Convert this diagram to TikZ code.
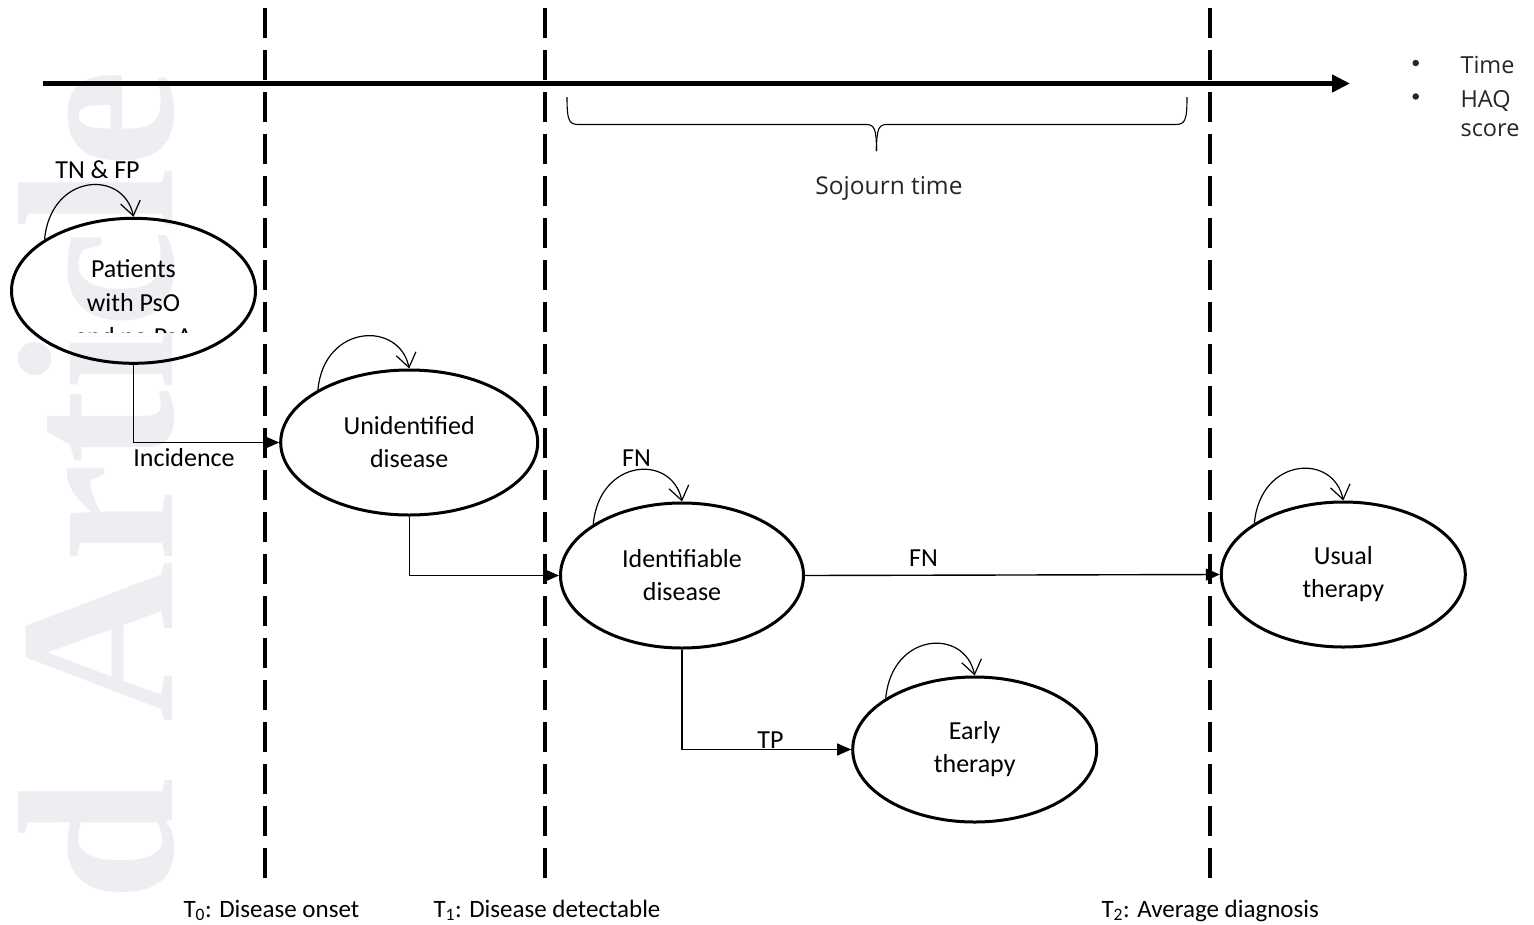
\documentclass[tikz,border=0pt]{standalone}
\usepackage{fontspec}
\setmainfont{Carlito}
\newfontfamily\osans{Open Sans}
\newfontfamily\wmfont{Liberation Serif}
\usetikzlibrary{shapes.geometric,arrows.meta,calc}
\definecolor{wmgray}{RGB}{237,237,242}
\begin{document}
\begin{tikzpicture}[x=1pt,y=-1pt,
  state/.style={draw, ellipse, line width=3pt, minimum width=244pt, minimum height=145pt,
    inner sep=0pt, align=center, font=\fontsize{26}{33}\selectfont},
  conn/.style={line width=1.4pt, -{Triangle[length=14pt,width=12pt]}},
  selfloop/.style={line width=1.2pt, -{Straight Barb[length=14pt,width=20pt,line width=1.2pt]}},
  lbl/.style={font=\fontsize{26}{31}\selectfont},
  vline/.style={line width=4pt, dash pattern=on 30pt off 12pt},
  tlabel/.style={font=\fontsize{25}{30}\selectfont, anchor=base west},
  sidetxt/.style={font=\osans\fontsize{23.5}{28}\selectfont, anchor=base west, text=black!85},
  bullet/.style={circle, fill=black!85, inner sep=0pt, minimum size=6.5pt},
  wm/.style={font=\wmfont\bfseries\fontsize{222}{222}\selectfont, text=wmgray, inner sep=0pt}
]
\useasboundingbox (0,0) rectangle (1534,924);

% watermark
\node[wm, rotate=90, anchor=base west] (wmark) at (172,902) {d Article};

% vertical dashed lines
\coordinate (v0t) at (264.5,8);  \coordinate (v0b) at (264.5,878);
\coordinate (v1t) at (545,8);    \coordinate (v1b) at (545,885);
\coordinate (v2t) at (1210,8);   \coordinate (v2b) at (1210,878);
\draw[vline] (v0t) -- (v0b);
\draw[vline] (v1t) -- (v1b);
\draw[vline] (v2t) -- (v2b);

% time axis
\coordinate (axL) at (43,83.5);
\coordinate (axR) at (1350,83.5);
\draw[line width=5pt, -{Triangle[length=18pt,width=17pt]}] (axL) -- (axR);

% side legend
\node[bullet] (b1) at (1415.7,63) {};
\node[bullet] (b2) at (1415.7,96.5) {};
\node[sidetxt] (t1) at (1457,73.3) {Time};
\node[sidetxt] (t2) at (1457,107.3) {HAQ};
\node[sidetxt] (t3) at (1457,136.7) {score};

% brace
\draw[line width=1.1pt] (567,97) .. controls (567,121) and (569,124.5) .. (579,124.5) -- (866,124.5)
  .. controls (874,124.5) and (876.5,128) .. (876.5,151);
\draw[line width=1.1pt] (1187,97) .. controls (1187,121) and (1185,124.5) .. (1175,124.5) -- (887,124.5)
  .. controls (879,124.5) and (876.5,128) .. (876.5,151);
\node[font=\osans\fontsize{24.5}{29}\selectfont, anchor=base, text=black!85] (soj) at (889,194) {Sojourn time};

% states
\node[state] (P) at (133.5,290.8) {};
\node[lbl, anchor=base] (Pt1) at (133.5,277.7) {Patients};
\node[lbl, anchor=base] (Pt2) at (133.5,311.7) {with PsO};
\begin{scope}
  \clip (0,300) rectangle (300,332.6);
  \node[lbl, anchor=base] (Pt3) at (133.5,345.7) {and no PsA};
\end{scope}
\node[state, minimum width=257pt] (Un) at (409.2,442.5) {Unidentified\\disease};
\node[state, minimum width=243pt] (Id) at (682,575.5) {Identifiable\\disease};
\node[state] (Us) at (1343.3,574.5) {Usual\\therapy};
\node[state] (Ea) at (974.7,749.5) {Early\\therapy};

% self loops
\draw[selfloop] (P.150) .. controls +(6,-66) and +(-10,-48) .. (P.north);
\draw[selfloop] (Un.150) .. controls +(6,-66) and +(-10,-48) .. (Un.north);
\draw[selfloop] (Id.150) .. controls +(6,-66) and +(-10,-48) .. (Id.north);
\draw[selfloop] (Us.150) .. controls +(6,-66) and +(-10,-48) .. (Us.north);
\draw[selfloop] (Ea.150) .. controls +(6,-66) and +(-10,-48) .. (Ea.north);
\node[lbl] (tnfp) at (97.5,170) {TN \& FP};
\node[lbl] (fn1) at (636.5,458) {FN};

% connectors
\draw[conn] (P.south) |- (Un.west);
\draw[conn] (Un.south) |- (Id.west);
\draw[conn] (Id.east) -- (Us.west);
\draw[conn] (Id.south) |- (Ea.west);
\node[lbl] (inc) at (184,458) {Incidence};
\node[lbl] (fn2) at (923.5,558) {FN};
\node[lbl] (tp) at (770.5,740) {TP};

% time labels
\node[tlabel] (T0) at (180,917) {T\textsubscript{0}: Disease onset};
\node[tlabel] (T1) at (430,917) {T\textsubscript{1}: Disease detectable};
\node[tlabel] (T2) at (1098,917) {T\textsubscript{2}: Average diagnosis};
\end{tikzpicture}
\end{document}
